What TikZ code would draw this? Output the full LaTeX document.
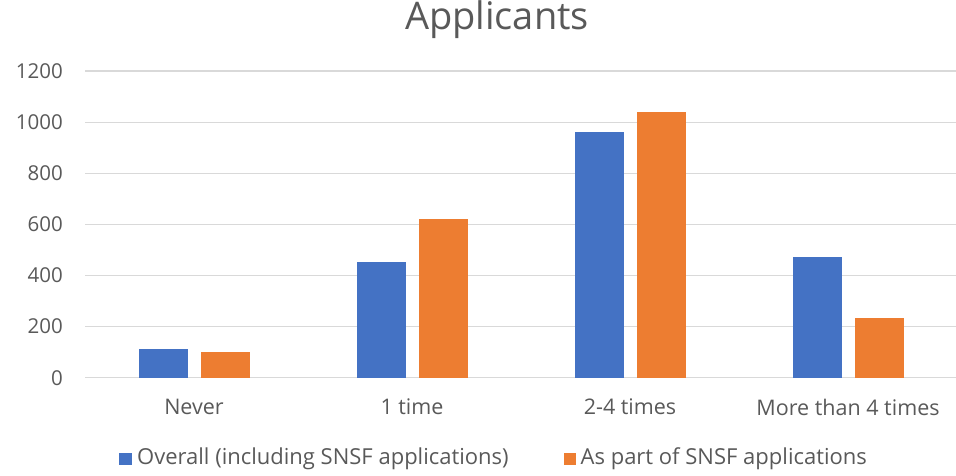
\documentclass[tikz,border=0pt]{standalone}
\usepackage{fontspec}
\setmainfont{Open Sans}
\usetikzlibrary{positioning}

\definecolor{txtgray}{HTML}{595959}
\definecolor{gridgray}{HTML}{D9D9D9}
\definecolor{barblue}{HTML}{4472C4}
\definecolor{barorange}{HTML}{ED7D31}

\tikzset{
  grid line/.style={draw=gridgray, line width=1.4pt},
  tick label/.style={text=txtgray, font=\fontsize{20.5}{24}\selectfont, anchor=east, inner sep=0pt},
  cat label/.style={text=txtgray, font=\fontsize{21.5}{25}\selectfont, inner sep=0pt},
  bar/.style={fill=#1, draw=none},
  key box/.style={fill=#1, draw=none, minimum size=12.5pt, inner sep=0pt},
  key label/.style={text=txtgray, font=\fontsize{22}{26}\selectfont, anchor=west, inner sep=0pt}
}

\begin{document}
\begin{tikzpicture}[x=1pt, y=1pt]
\useasboundingbox (0,0) rectangle (956,476);

\node[text=txtgray, font=\fontsize{38}{44}\selectfont] (title) at (497,456) {Applicants};

% value axis: zero at 98.3, 0.2555 per unit
\begin{scope}[shift={(0,98.3)}, y=0.2555pt]
\foreach \v in {0,200,...,1200} {
  \draw[grid line] (85,\v) -- (956,\v);
  \node[tick label] (tick\v) at (63,\v) {\v};
}
\foreach \c/\a/\b in {194/111/102, 412/451/621, 630/962/1041, 848/474/233} {
  \fill[bar=barblue] (\c-55.5,0) rectangle (\c-6.5,\a);
  \fill[bar=barorange] (\c+6.5,0) rectangle (\c+55.5,\b);
}
\end{scope}

\node[cat label] (never) at (194,69) {Never};
\node[cat label] (once) at (412,69) {1 time};
\node[cat label] (twofour) at (630,69) {2-4 times};
\node[cat label] (more) at (848,69) {More than 4 times};

% legend
\node[key box=barblue] (keyA) at (125.5,17) {};
\node[key label, right=5pt of keyA] (keyAtxt) {Overall (including SNSF applications)};
\node[key box=barorange] (keyB) at (570,17) {};
\node[key label, right=4pt of keyB] (keyBtxt) {As part of SNSF applications};
\end{tikzpicture}
\end{document}
